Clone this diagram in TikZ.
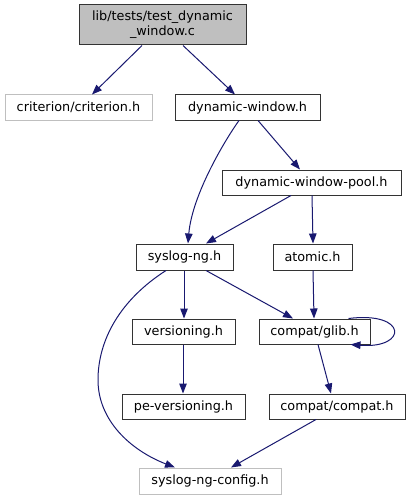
\documentclass[tikz,border=0pt]{standalone}
\usepackage{fontspec}
\setmainfont{DejaVu Sans}
\usetikzlibrary{arrows.meta}
\definecolor{edgeblue}{HTML}{191970}
\definecolor{greyfill}{HTML}{BFBFBF}
\tikzset{
  box/.style={draw=black!80, line width=1pt, fill=white, inner sep=0pt, font=\fontsize{12.8}{15}\selectfont, align=center},
  greybox/.style={box, draw=greyfill},
  edge/.style={draw=edgeblue, line width=1pt, -{Triangle[length=10pt,width=7.5pt]}, shorten >=0pt},
}
\begin{document}
\begin{tikzpicture}[x=1pt,y=-1pt]
\useasboundingbox[fill=white] (0,0) rectangle (411,500);
\node[box, fill=greyfill, minimum width=167pt, minimum height=40pt] (top) at (162.5,25) {lib/tests/test\_dynamic\\\_window.c};
\node[greybox, minimum width=147pt, minimum height=25pt] (crit) at (78.5,107.5) {criterion/criterion.h};
\node[box, minimum width=145pt, minimum height=25pt] (dw) at (247.5,107.5) {dynamic-window.h};
\node[box, minimum width=179pt, minimum height=25pt] (dwp) at (311.5,182.5) {dynamic-window-pool.h};
\node[box, minimum width=97pt, minimum height=26pt] (sng) at (184.5,257) {syslog-ng.h};
\node[box, minimum width=79pt, minimum height=26pt] (atomic) at (312.5,257) {atomic.h};
\node[box, minimum width=103pt, minimum height=25pt] (vers) at (183.5,331.5) {versioning.h};
\node[box, minimum width=111pt, minimum height=25pt] (glib) at (314.5,331.5) {compat/glib.h};
\node[box, minimum width=123pt, minimum height=25pt] (pev) at (183.5,406.5) {pe-versioning.h};
\node[box, minimum width=136pt, minimum height=25pt] (compat) at (337,406.5) {compat/compat.h};
\node[greybox, minimum width=142pt, minimum height=26pt] (cfg) at (210,481) {syslog-ng-config.h};

\draw[edge] ([xshift=-20.5pt]top.south) -- ([xshift=13.5pt]crit.north);
\draw[edge] ([xshift=20.5pt]top.south) -- ([xshift=-12.5pt]dw.north);
\draw[edge] ([xshift=-8.5pt]dw.south) .. controls (225,140) and (192,195) .. ([xshift=3.5pt]sng.north);
\draw[edge] ([xshift=10.5pt]dw.south) -- ([xshift=-11.5pt]dwp.north);
\draw[edge] ([xshift=-20.5pt]dwp.south) -- ([xshift=21.5pt]sng.north);
\draw[edge] ([xshift=0.5pt]dwp.south) -- ([xshift=0.5pt]atomic.north);
\draw[edge] ([xshift=-0.5pt]sng.south) -- ([xshift=0.5pt]vers.north);
\draw[edge] ([xshift=21.5pt]sng.south) -- ([xshift=-21.5pt]glib.north);
\draw[edge] ([xshift=-18.5pt]sng.south) .. controls (120,300) and (98,340) .. (98,380) .. controls (98,420) and (130,450) .. ([xshift=-35pt]cfg.north);
\draw[edge] ([xshift=0.5pt]atomic.south) -- ([xshift=-0.5pt]glib.north);
\draw[edge] ([xshift=-22pt]glib.north east) .. controls (408,311) and (408,349) .. ([xshift=-20pt]glib.south east);
\draw[edge] ([xshift=3.5pt]glib.south) -- ([xshift=-6pt]compat.north);
\draw[edge] ([xshift=-0.5pt]vers.south) -- ([xshift=-0.5pt]pev.north);
\draw[edge] ([xshift=-21pt]compat.south) -- ([xshift=21pt]cfg.north);
\end{tikzpicture}
\end{document}
